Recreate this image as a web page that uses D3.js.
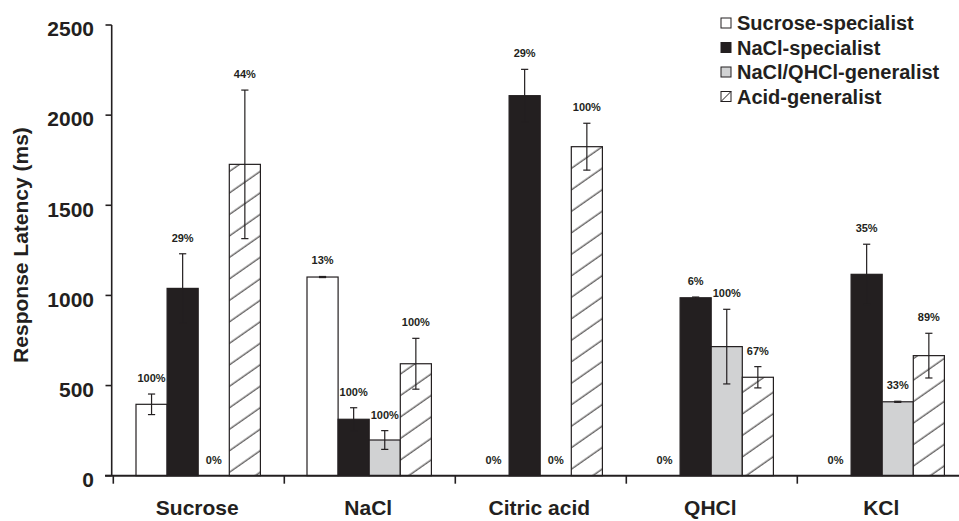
<!DOCTYPE html>
<html lang="en">
<head>
<meta charset="UTF-8">
<script src="https://d3js.org/d3.v7.min.js"></script>
<style>
  body { margin: 0; background: #fff; }
  svg text { font-family: Arial, "Liberation Sans", sans-serif; font-weight: bold; fill: #231f20; }
</style>
</head>
<body>
<div id="chart"></div>
<script>
// data
const categories = ["Sucrose", "NaCl", "Citric acid", "QHCl", "KCl"];
const groups = ["Sucrose-specialist", "NaCl-specialist", "NaCl/QHCl-generalist", "Acid-generalist"];

const sucroseSpec = [396, 1102, 0, 0, 0];
const naclSpec = [1039, 313, 2108, 987, 1117];
const generalist = [0, 198, 0, 716, 410];
const acidGen = [1727, 621, 1825, 546, 666];

const sucroseSpecErr = [57, 3, 0, 0, 0];
const naclSpecErr = [192, 64, 146, 4, 167];
const generalistErr = [0, 52, 0, 207, 3];
const acidGenErr = [412, 141, 130, 59, 124];

const sucroseSpecPct = ["100%", "13%", "0%", "0%", "0%"];
const naclSpecPct = ["29%", "100%", "29%", "6%", "35%"];
const generalistPct = ["0%", "100%", "0%", "100%", "33%"];
const acidGenPct = ["44%", "100%", "100%", "67%", "89%"];

const yTicks = [0, 500, 1000, 1500, 2000, 2500];

const values = [sucroseSpec, naclSpec, generalist, acidGen];
const errors = [sucroseSpecErr, naclSpecErr, generalistErr, acidGenErr];
const pcts = [sucroseSpecPct, naclSpecPct, generalistPct, acidGenPct];

const width = 959, height = 521;
const ink = "#231f20";
const fills = ["#ffffff", ink, "#d1d2d3", "url(#hatch)"];

const svg = d3.select("#chart").append("svg")
  .attr("width", width).attr("height", height);

// hatch pattern for acid-generalist
const defs = svg.append("defs");
const pat = defs.append("pattern")
  .attr("id", "hatch")
  .attr("patternUnits", "userSpaceOnUse")
  .attr("width", 12).attr("height", 17.6)
  .attr("patternTransform", "rotate(-35)");
pat.append("rect").attr("width", 12).attr("height", 17.6).attr("fill", "#fff");
pat.append("line")
  .attr("x1", 0).attr("x2", 12).attr("y1", 8).attr("y2", 8)
  .attr("stroke", ink).attr("stroke-width", 1);

// scales
const band = 171;
const x0 = d3.scaleBand().domain(categories).range([113.3, 113.3 + band * categories.length]).padding(0);
const x1 = d3.scaleBand().domain(groups).range([22.7, 22.7 + 124.4]).padding(0);
const y = d3.scaleLinear().domain([0, 2500]).range([475.7, 25]);

// bars
const rows = [];
categories.forEach((c, ci) => {
  groups.forEach((g, gi) => {
    rows.push({ c, g, gi, v: values[gi][ci], e: errors[gi][ci], p: pcts[gi][ci] });
  });
});

const bx = d => x0(d.c) + x1(d.g);

svg.append("g").selectAll("rect")
  .data(rows.filter(d => d.v > 0))
  .join("rect")
  .attr("x", bx)
  .attr("y", d => y(d.v))
  .attr("width", x1.bandwidth())
  .attr("height", d => y(0) - y(d.v))
  .attr("fill", d => fills[d.gi])
  .attr("stroke", ink)
  .attr("stroke-width", 1.2);

// error bars
const eb = svg.append("g").attr("stroke", ink).attr("stroke-width", 1.2);
rows.filter(d => d.v > 0 && d.e > 0).forEach(d => {
  const cx = bx(d) + x1.bandwidth() / 2;
  eb.append("line").attr("x1", cx).attr("x2", cx).attr("y1", y(d.v + d.e)).attr("y2", y(d.v - d.e));
  [d.v + d.e, d.v - d.e].forEach(v => {
    eb.append("line").attr("x1", cx - 3.6).attr("x2", cx + 3.6).attr("y1", y(v)).attr("y2", y(v));
  });
});

// percent labels
svg.append("g").selectAll("text")
  .data(rows)
  .join("text")
  .attr("x", d => bx(d) + x1.bandwidth() / 2)
  .attr("y", d => d.v > 0 ? y(d.v + d.e) - 12 : y(0) - 12)
  .attr("text-anchor", "middle")
  .attr("font-size", 11)
  .text(d => d.p);

// y axis
const ya = svg.append("g");
ya.append("line").attr("x1", 111.7).attr("x2", 111.7).attr("y1", y(2500)).attr("y2", y(0))
  .attr("stroke", ink).attr("stroke-width", 1.6);
ya.selectAll(".yt").data(yTicks).join("line")
  .attr("x1", 105.5).attr("x2", 111.7)
  .attr("y1", d => y(d)).attr("y2", d => y(d))
  .attr("stroke", ink).attr("stroke-width", 1.6);
ya.selectAll("text").data(yTicks).join("text")
  .attr("x", 94)
  .attr("y", d => y(d) + 4)
  .attr("dy", "0.35em")
  .attr("text-anchor", "end")
  .attr("font-size", 21)
  .text(d => d);

svg.append("text")
  .attr("transform", `translate(28,${245}) rotate(-90)`)
  .attr("text-anchor", "middle")
  .attr("font-size", 21)
  .text("Response Latency (ms)");

// x axis
const xa = svg.append("g");
xa.append("line").attr("x1", 105).attr("x2", width).attr("y1", y(0)).attr("y2", y(0))
  .attr("stroke", ink).attr("stroke-width", 2);
xa.selectAll(".xt").data(categories).join("line")
  .attr("x1", d => x0(d)).attr("x2", d => x0(d))
  .attr("y1", y(0)).attr("y2", y(0) + 8)
  .attr("stroke", ink).attr("stroke-width", 1.6);
xa.selectAll("text").data(categories).join("text")
  .attr("x", d => x0(d) + x0.bandwidth() / 2 - 1.5)
  .attr("y", 515)
  .attr("text-anchor", "middle")
  .attr("font-size", 21)
  .text(d => d);

// legend
const lg = svg.append("g");
groups.forEach((g, i) => {
  const ly = 30 + i * 24.5;
  lg.append("rect").attr("x", 721).attr("y", ly - 12).attr("width", 10).attr("height", 10)
    .attr("fill", i === 3 ? "#fff" : fills[i]).attr("stroke", ink).attr("stroke-width", 1);
  if (i === 3) {
    lg.append("line").attr("x1", 721).attr("y1", ly - 2).attr("x2", 731).attr("y2", ly - 12)
      .attr("stroke", ink).attr("stroke-width", 1);
  }
  lg.append("text").attr("x", 737).attr("y", ly).attr("font-size", 20).text(g);
});
</script>
</body>
</html>
